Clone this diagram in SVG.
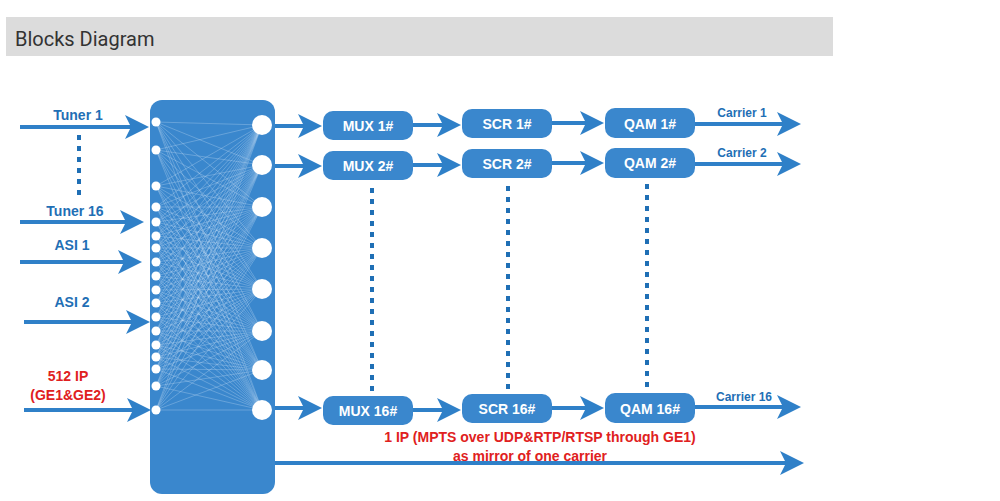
<svg xmlns="http://www.w3.org/2000/svg" width="1000" height="501" viewBox="0 0 1000 501">
<style>
.hd{font-family:Roboto,"Liberation Sans",sans-serif;font-size:20px;fill:#333}
.lb{font-family:"Liberation Sans",Arial,sans-serif;font-weight:bold;font-size:14px;fill:#1f6fb5;text-anchor:middle}
.bx{fill:#3a87cd}
.bt{font-family:"Liberation Sans",Arial,sans-serif;font-weight:bold;font-size:14px;fill:#fff;text-anchor:middle}
.ar{stroke:#2f80c8;stroke-width:4;fill:none;marker-end:url(#ah)}
.dt{stroke:#1f6fb5;stroke-width:4;stroke-dasharray:5 6;fill:none}
.red{font-family:"Liberation Sans",Arial,sans-serif;font-weight:bold;font-size:14px;fill:#e02020;text-anchor:middle}
.cr{font-family:"Liberation Sans",Arial,sans-serif;font-weight:bold;font-size:12px;fill:#1f6fb5;text-anchor:middle}
</style>
<defs>
<marker id="ah" markerWidth="6" markerHeight="6" refX="5" refY="3" orient="auto" markerUnits="strokeWidth"><path d="M0,0 L6,3 L0,6 L1.5,3 Z" fill="#2f80c8"/></marker>
</defs>
<rect width="1000" height="501" fill="#fff"/>
<rect x="6" y="17" width="827" height="39" fill="#dcdcdc"/>
<text class="hd" x="15" y="46">Blocks Diagram</text>
<g id="matrix">
<rect class="bx" x="150" y="100" width="125" height="394" rx="12"/>
<path stroke="#cfe3f7" stroke-width="0.5" opacity="0.6" fill="none" d="M156 122L262 125M156 122L262 165M156 122L262 207M156 122L262 248M156 122L262 289M156 122L262 331M156 122L262 370M156 122L262 410M156 150L262 125M156 150L262 165M156 150L262 207M156 150L262 248M156 150L262 289M156 150L262 331M156 150L262 370M156 150L262 410M156 186L262 125M156 186L262 165M156 186L262 207M156 186L262 248M156 186L262 289M156 186L262 331M156 186L262 370M156 186L262 410M156 207L262 125M156 207L262 165M156 207L262 207M156 207L262 248M156 207L262 289M156 207L262 331M156 207L262 370M156 207L262 410M156 222L262 125M156 222L262 165M156 222L262 207M156 222L262 248M156 222L262 289M156 222L262 331M156 222L262 370M156 222L262 410M156 236L262 125M156 236L262 165M156 236L262 207M156 236L262 248M156 236L262 289M156 236L262 331M156 236L262 370M156 236L262 410M156 248L262 125M156 248L262 165M156 248L262 207M156 248L262 248M156 248L262 289M156 248L262 331M156 248L262 370M156 248L262 410M156 262L262 125M156 262L262 165M156 262L262 207M156 262L262 248M156 262L262 289M156 262L262 331M156 262L262 370M156 262L262 410M156 276L262 125M156 276L262 165M156 276L262 207M156 276L262 248M156 276L262 289M156 276L262 331M156 276L262 370M156 276L262 410M156 290L262 125M156 290L262 165M156 290L262 207M156 290L262 248M156 290L262 289M156 290L262 331M156 290L262 370M156 290L262 410M156 303L262 125M156 303L262 165M156 303L262 207M156 303L262 248M156 303L262 289M156 303L262 331M156 303L262 370M156 303L262 410M156 317L262 125M156 317L262 165M156 317L262 207M156 317L262 248M156 317L262 289M156 317L262 331M156 317L262 370M156 317L262 410M156 331L262 125M156 331L262 165M156 331L262 207M156 331L262 248M156 331L262 289M156 331L262 331M156 331L262 370M156 331L262 410M156 345L262 125M156 345L262 165M156 345L262 207M156 345L262 248M156 345L262 289M156 345L262 331M156 345L262 370M156 345L262 410M156 357L262 125M156 357L262 165M156 357L262 207M156 357L262 248M156 357L262 289M156 357L262 331M156 357L262 370M156 357L262 410M156 369L262 125M156 369L262 165M156 369L262 207M156 369L262 248M156 369L262 289M156 369L262 331M156 369L262 370M156 369L262 410M156 386L262 125M156 386L262 165M156 386L262 207M156 386L262 248M156 386L262 289M156 386L262 331M156 386L262 370M156 386L262 410M156 410L262 125M156 410L262 165M156 410L262 207M156 410L262 248M156 410L262 289M156 410L262 331M156 410L262 370M156 410L262 410"/>
<g fill="#fff">
<circle cx="156" cy="122" r="4.5"/><circle cx="156" cy="150" r="4.5"/><circle cx="156" cy="186" r="4.5"/><circle cx="156" cy="207" r="4.5"/><circle cx="156" cy="222" r="4.5"/><circle cx="156" cy="236" r="4.5"/><circle cx="156" cy="248" r="4.5"/><circle cx="156" cy="262" r="4.5"/><circle cx="156" cy="276" r="4.5"/><circle cx="156" cy="290" r="4.5"/><circle cx="156" cy="303" r="4.5"/><circle cx="156" cy="317" r="4.5"/><circle cx="156" cy="331" r="4.5"/><circle cx="156" cy="345" r="4.5"/><circle cx="156" cy="357" r="4.5"/><circle cx="156" cy="369" r="4.5"/><circle cx="156" cy="386" r="4.5"/><circle cx="156" cy="410" r="4.5"/>
<circle cx="262" cy="125" r="10"/><circle cx="262" cy="165" r="10"/><circle cx="262" cy="207" r="10"/><circle cx="262" cy="248" r="10"/><circle cx="262" cy="289" r="10"/><circle cx="262" cy="331" r="10"/><circle cx="262" cy="370" r="10"/><circle cx="262" cy="410" r="10"/>
</g>
</g>
<g id="inputs">
<text class="lb" x="78" y="120">Tuner 1</text>
<text class="lb" x="75" y="216">Tuner 16</text>
<text class="lb" x="72" y="250">ASI 1</text>
<text class="lb" x="72" y="307">ASI 2</text>
<text class="red" x="68" y="381">512 IP</text>
<text class="red" x="68" y="400">(GE1&amp;GE2)</text>
</g>
<g id="mux1"><rect class="bx" x="323" y="111" width="90" height="29" rx="10"/><text class="bt" x="368" y="131">MUX 1#</text></g>
<g id="mux2"><rect class="bx" x="323" y="151" width="90" height="29" rx="10"/><text class="bt" x="368" y="171">MUX 2#</text></g>
<g id="mux16"><rect class="bx" x="323" y="396" width="90" height="29" rx="10"/><text class="bt" x="368" y="416">MUX 16#</text></g>
<g id="scr1"><rect class="bx" x="462" y="109" width="90" height="29" rx="10"/><text class="bt" x="507" y="129">SCR 1#</text></g>
<g id="scr2"><rect class="bx" x="462" y="149" width="90" height="29" rx="10"/><text class="bt" x="507" y="169">SCR 2#</text></g>
<g id="scr16"><rect class="bx" x="462" y="394" width="90" height="29" rx="10"/><text class="bt" x="507" y="414">SCR 16#</text></g>
<g id="qam1"><rect class="bx" x="605" y="108" width="90" height="30" rx="10"/><text class="bt" x="650" y="129">QAM 1#</text></g>
<g id="qam2"><rect class="bx" x="605" y="148" width="90" height="30" rx="10"/><text class="bt" x="650" y="168">QAM 2#</text></g>
<g id="qam16"><rect class="bx" x="605" y="393" width="90" height="30" rx="10"/><text class="bt" x="650" y="414">QAM 16#</text></g>
<g id="connectors">
<path class="ar" d="M20 127H145"/><path class="ar" d="M20 222H140"/><path class="ar" d="M20 262H138"/><path class="ar" d="M24 322H146"/><path class="ar" d="M24 410H147"/>
<path class="dt" d="M79 135V200"/>
<path class="ar" d="M275 126H318"/><path class="ar" d="M275 166H318"/><path class="ar" d="M275 408H318"/>
<path class="ar" d="M413 125H457"/><path class="ar" d="M413 165H457"/><path class="ar" d="M413 410H457"/>
<path class="ar" d="M552 123H600"/><path class="ar" d="M552 163H600"/><path class="ar" d="M552 408H600"/>
<path class="ar" d="M695 124H797"/><path class="ar" d="M695 164H797"/><path class="ar" d="M695 407H797"/>
<path class="ar" d="M275 463H800"/>
<path class="dt" d="M372 188V392"/><path class="dt" d="M508 186V390"/><path class="dt" d="M647 184V388"/>
<text class="cr" x="742" y="117">Carrier 1</text>
<text class="cr" x="742" y="157">Carrier 2</text>
<text class="cr" x="744" y="401">Carrier 16</text>
<text class="red" x="540" y="442">1 IP (MPTS over UDP&amp;RTP/RTSP through GE1)</text>
<text class="red" x="530" y="461">as mirror of one carrier</text>
</g>
</svg>
